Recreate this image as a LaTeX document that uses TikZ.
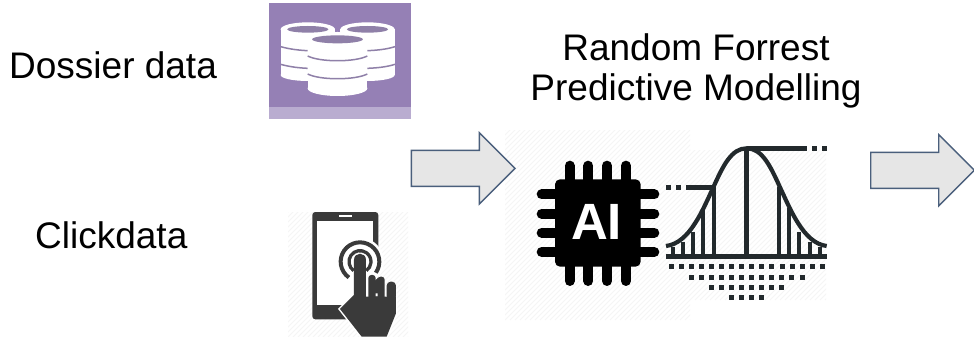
\documentclass[tikz,border=0pt]{standalone}
\usepackage{fontspec}
\setmainfont{Liberation Sans}
\usetikzlibrary{shapes.arrows}
\definecolor{arrowfill}{HTML}{E6E6E6}
\definecolor{arrowline}{HTML}{4A5F7C}
\definecolor{dbpurple}{HTML}{9580B5}
\definecolor{dbband}{HTML}{B9ACD0}
\definecolor{dbline}{HTML}{8F80A8}
\definecolor{phonegrey}{HTML}{3A3A3A}
\definecolor{curvegrey}{HTML}{22292C}
\definecolor{hatchgrey}{HTML}{F5F5F5}
\newcommand{\hatchbox}[4]{\begin{scope}
    \clip (#1,#2) rectangle (#3,#4);
    \foreach \hx in {0,5,...,400} {\draw[hatchgrey,line width=0.9pt] (#1+\hx-200,#4) -- ++(200,-200);}
\end{scope}}

\begin{document}
\begin{tikzpicture}[x=1pt,y=-1pt]
                        \tikzstyle{textlabel}=[inner sep=0pt,font=\fontsize{37}{40}\selectfont]
                        \tikzstyle{blockarrow}=[single arrow,draw=arrowline,fill=arrowfill,line width=1.4pt,inner xsep=0pt,inner ysep=17.3pt,
                            minimum height=103.6pt,single arrow head extend=17.6pt,anchor=tail]
                        \useasboundingbox (0,0) rectangle (974,337);
                        \fill[white] (0,0) rectangle (974,337);
                        \hatchbox{288}{212}{408}{337}
                        \hatchbox{505}{130}{690}{320}
                        \hatchbox{690}{150}{826}{300}

                        \node[textlabel,anchor=base west] (dossier) at (9,78) {Dossier data};
                        \node[textlabel,anchor=base west] (clickdata) at (35,248) {Clickdata};
                        \node[textlabel,align=center,anchor=north] (forest) at (696,33) {Random Forrest\\Predictive Modelling};
                        \node[blockarrow] (arrowin) at (410.7,168.3) {};
                        \node[blockarrow] (arrowout) at (870,170.3) {};

                        \fill[dbpurple] (269,3) rectangle (411,107);
                        \fill[dbband] (269,107) rectangle (411,119);
                        \begin{scope}[shift={(260,0)},x=0.3333pt,y=-0.3333pt]
                            \foreach \cx in {143.5,322.5} {
                                \fill[white] (\cx-81.5,88) rectangle (\cx+81.5,225);
                                \fill[white] (\cx,88) ellipse [x radius=81.5,y radius=21];
                                \fill[white] (\cx,225) ellipse [x radius=81.5,y radius=18];
                                \fill[dbline] (\cx,88) ellipse [x radius=62,y radius=10];
                            }
                            \fill[white] (143,118) rectangle (322,265);
                            \fill[white] (232.5,118) ellipse [x radius=89.5,y radius=22];
                            \fill[white] (232.5,265) ellipse [x radius=89.5,y radius=23];
                            \fill[dbline] (232.5,118) ellipse [x radius=76,y radius=12];
                            \foreach \by in {140,193} {
                                \draw[dbline,line width=1.5pt] (62,\by) .. controls (90,\by+8) and (120,\by+11) .. (143,\by+12);
                                \draw[dbline,line width=1.5pt] (322,\by+12) .. controls (350,\by+11) and (380,\by+8) .. (405,\by);
                            }
                            \foreach \by in {168,222} {
                                \draw[dbline,line width=1.5pt] (143,\by) .. controls (180,\by+19) and (285,\by+19) .. (322,\by);
                            }
                        \end{scope}

                        \begin{scope}[shift={(280,200)},x=0.3333pt,y=-0.3333pt]
                            \fill[phonegrey,rounded corners=3pt] (97,36) rectangle (295,358);
                            \fill[white] (112,62) rectangle (280,315);
                            \fill[white] (177,45) rectangle (215,52);
                            \fill[white] (240,185) circle [radius=72];
                            \draw[white,line width=3pt] (180,327) -- (222,285) -- (348,285) -- (348,340) -- (320,410) -- (245,410) -- cycle;
                            \draw[phonegrey,line width=4pt] (240,185) ++(125:58) arc [start angle=125,end angle=395,radius=58];
                            \draw[phonegrey,line width=3.3pt] (240,185) ++(125:33) arc [start angle=125,end angle=415,radius=33];
                            \fill[phonegrey] (180,327) -- (222,285) -- (222,180) .. controls (222,155) and (258,155) .. (258,180)
                                -- (258,290) -- (348,290) -- (348,340) -- (320,410) -- (245,410) -- cycle;
                            \fill[phonegrey,rounded corners=3pt] (265,225) rectangle (287,300);
                            \fill[phonegrey,rounded corners=3pt] (293,230) rectangle (314,300);
                            \fill[phonegrey,rounded corners=4pt] (320,245) rectangle (348,300);
                        \end{scope}

                        \begin{scope}[shift={(500,130)},x=0.3333pt,y=-0.3333pt]
                            \foreach \pinpos in {209,265,321,378} {
                                \draw[black,line width=10pt,line cap=round] (\pinpos,107) -- (\pinpos,453);
                            }
                            \foreach \pinpos in {193,251,308,366} {
                                \draw[black,line width=10pt,line cap=round] (125,\pinpos) -- (463,\pinpos);
                            }
                            \fill[black,rounded corners=5pt] (165,148) rectangle (422,410);
                            \node[white,inner sep=0pt,font=\bfseries\fontsize{51}{51}\selectfont] (chiplabel) at (290,275) {AI};
                        \end{scope}

                        \begin{scope}[shift={(660,130)},x=0.3333pt,y=-0.3333pt]
                            \draw[curvegrey,line width=4.6pt] (18,380) -- (500,380);
                            \draw[curvegrey,line width=4.6pt] (260,380) -- (260,50);
                            \draw[curvegrey,line width=4.6pt] (260,55) -- (440,55);
                            \draw[curvegrey,line width=4.6pt] (78,172) -- (160,172);
                            \draw[curvegrey,line width=4.2pt] (18,348) .. controls (90,340) and (130,235) .. (160,172)
                                .. controls (190,105) and (215,55) .. (260,55)
                                .. controls (305,55) and (330,105) .. (360,172)
                                .. controls (390,235) and (430,340) .. (500,348);
                            \foreach \lx/\ly in {162/172,130/235,100/305,70/335,40/350,357/172,388/235,418/305,450/335,480/350} {
                                \draw[curvegrey,line width=4pt] (\lx,\ly) -- (\lx,380);
                            }
                            \foreach \dx in {18,48,457,487} {
                                \pgfmathsetmacro{\dy}{\dx<100 ? 172 : 55}
                                \fill[curvegrey] (\dx,\dy-7.5) rectangle ++(15,15);
                            }
                            \foreach \dy/\dfirst/\dcount in {411/33/15,442/93/11,473/153/7,504/214/3} {
                                \foreach \dn in {0,...,\dcount} {
                                    \fill[curvegrey] (\dfirst+\dn*30.3-7.5,\dy-7.5) rectangle ++(15,15);
                                }
                            }
                        \end{scope}
                    \end{tikzpicture}
\end{document}
